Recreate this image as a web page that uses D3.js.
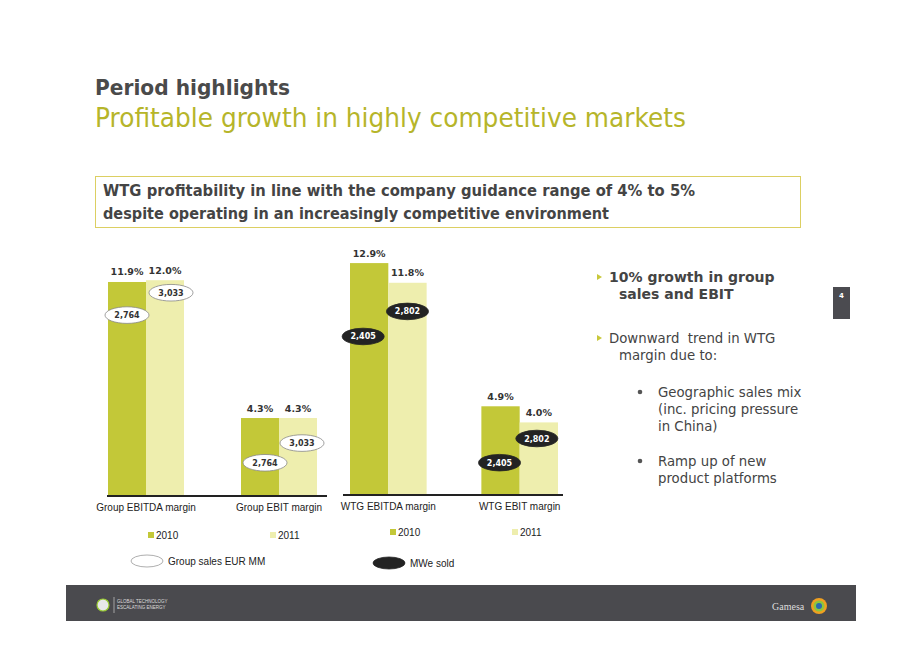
<!DOCTYPE html>
<html><head><meta charset="utf-8">
<script src="https://cdn.jsdelivr.net/npm/d3@7"></script>
<style>body{margin:0;background:#fff}svg{display:block}text{white-space:pre}</style>
</head><body>
<script>
// ---- data ----
const years = ["2010", "2011"];
const groupCategories = ["Group EBITDA margin", "Group EBIT margin"];
const groupMargin2010 = [11.9, 4.3];
const groupMargin2011 = [12.0, 4.3];
const groupSales = [2764, 3033]; // EUR MM, 2010 / 2011
const wtgCategories = ["WTG EBITDA margin", "WTG EBIT margin"];
const wtgMargin2010 = [12.9, 4.9];
const wtgMargin2011 = [11.8, 4.0];
const mweSold = [2405, 2802]; // 2010 / 2011

// annotation bubble heights (in % units) and horizontal nudges — layout only
const groupBubbleAt = [[10.05, 11.3], [1.8, 2.9]];
const groupBubbleDx = [[0, 6], [5, 4]];
const wtgBubbleAt = [[8.8, 10.2], [1.75, 3.1]];
const wtgBubbleDx = [[-6, 0], [-1, -2]];

const W = 920, H = 651;
const C2010 = "#c3c838", C2011 = "#eeeeae";
const TXT = "#333";
const svg = d3.select("body").append("svg").attr("width", W).attr("height", H);

// ---- headings ----
svg.append("text").attr("x", 95).attr("y", 95).attr("font-family", "DejaVu Sans")
  .attr("font-weight", "bold").attr("font-size", 20.5).attr("fill", "#4a4a4a")
  .attr("textLength", 195).attr("lengthAdjust", "spacingAndGlyphs").text("Period highlights");
svg.append("text").attr("x", 95).attr("y", 127).attr("font-family", "DejaVu Sans")
  .attr("font-size", 27).attr("fill", "#b6b52a")
  .attr("textLength", 591).attr("lengthAdjust", "spacingAndGlyphs")
  .text("Profitable growth in highly competitive markets");

svg.append("rect").attr("x", 95.5).attr("y", 176.5).attr("width", 705).attr("height", 51)
  .attr("fill", "#fff").attr("stroke", "#dccf62").attr("stroke-width", 1);
const boxLines = ["WTG profitability in line with the company guidance range of 4% to 5%",
  "despite operating in an increasingly competitive environment"];
const boxLens = [592, 506];
boxLines.forEach((t, i) => {
  svg.append("text").attr("x", 103).attr("y", 196 + i * 23).attr("font-family", "DejaVu Sans")
    .attr("font-weight", "bold").attr("font-size", 15).attr("fill", "#444")
    .attr("textLength", boxLens[i]).attr("lengthAdjust", "spacingAndGlyphs").text(t);
});

// ---- chart builder ----
function drawChart(cfg) {
  const g = svg.append("g");
  const x0 = d3.scaleBand().domain(cfg.categories).range(cfg.xRange).paddingInner(cfg.padInner).paddingOuter(0);
  const x1 = d3.scaleBand().domain(years).range([0, x0.bandwidth()]).padding(0);
  const y = d3.scaleLinear().domain([0, 13]).range([cfg.base, cfg.base - 13 * 17.9]);
  const rows = cfg.categories.map((c, i) => ({ cat: c, i, vals: [cfg.v2010[i], cfg.v2011[i]] }));

  const grp = g.selectAll("g.cat").data(rows).join("g")
    .attr("transform", d => `translate(${x0(d.cat)},0)`);
  grp.selectAll("rect").data(d => d.vals.map((v, j) => ({ v, yr: years[j] }))).join("rect")
    .attr("x", d => x1(d.yr)).attr("width", x1.bandwidth())
    .attr("y", d => y(d.v)).attr("height", d => y(0) - y(d.v))
    .attr("fill", d => d.yr === "2010" ? C2010 : C2011);
  grp.selectAll("text.pct").data(d => d.vals.map((v, j) => ({ v, yr: years[j] }))).join("text")
    .attr("class", "pct").attr("x", d => x1(d.yr) + x1.bandwidth() / 2).attr("y", d => y(d.v) - 6.5)
    .attr("text-anchor", "middle").attr("font-family", "DejaVu Sans").attr("font-weight", "bold")
    .attr("font-size", 9.5).attr("fill", TXT).text(d => d.v.toFixed(1) + "%");

  // annotation bubbles
  rows.forEach(r => {
    years.forEach((yr, j) => {
      const cx = x0(r.cat) + x1(yr) + x1.bandwidth() / 2 + cfg.bubbleDx[r.i][j];
      const cy = y(cfg.bubbleAt[r.i][j]);
      g.append("ellipse").attr("cx", cx).attr("cy", cy).attr("rx", cfg.dark ? 21 : 22).attr("ry", 8.3)
        .attr("fill", cfg.dark ? "#232323" : "#fff").attr("stroke", cfg.dark ? "#232323" : "#888")
        .attr("stroke-width", 0.8);
      g.append("text").attr("x", cx).attr("y", cy + 3).attr("text-anchor", "middle")
        .attr("font-family", "DejaVu Sans").attr("font-weight", "bold").attr("font-size", 8)
        .attr("fill", cfg.dark ? "#fff" : TXT).text(d3.format(",")(cfg.bubbles[j]));
    });
  });

  // baseline axis
  g.append("line").attr("x1", cfg.axis[0]).attr("x2", cfg.axis[1]).attr("y1", cfg.base + 1).attr("y2", cfg.base + 1)
    .attr("stroke", "#222").attr("stroke-width", 2);
  // category labels
  g.selectAll("text.cat").data(cfg.categories).join("text").attr("class", "cat")
    .attr("x", d => x0(d) + x0.bandwidth() / 2).attr("y", cfg.catY).attr("text-anchor", "middle")
    .attr("font-family", "Liberation Sans").attr("font-size", 10).attr("fill", "#222").text(d => d);
  // year legend
  years.forEach((yr, j) => {
    const lx = cfg.legendX[j];
    g.append("rect").attr("x", lx).attr("y", cfg.legendY - 7).attr("width", 6).attr("height", 6)
      .attr("fill", j === 0 ? C2010 : C2011);
    g.append("text").attr("x", lx + 8).attr("y", cfg.legendY).attr("font-family", "Liberation Sans")
      .attr("font-size", 10).attr("fill", "#222").text(yr);
  });
  // bubble legend
  g.append("ellipse").attr("cx", cfg.bLegend[0]).attr("cy", cfg.bLegend[1]).attr("rx", 16).attr("ry", 6)
    .attr("fill", cfg.dark ? "#232323" : "#fff").attr("stroke", cfg.dark ? "#232323" : "#999").attr("stroke-width", 0.8);
  g.append("text").attr("x", cfg.bLegend[0] + 21).attr("y", cfg.bLegend[1] + 4).attr("font-family", "Liberation Sans")
    .attr("font-size", 10).attr("fill", "#222").text(cfg.bLegendText);
}

drawChart({
  categories: groupCategories, v2010: groupMargin2010, v2011: groupMargin2011, bubbles: groupSales,
  bubbleAt: groupBubbleAt, bubbleDx: groupBubbleDx, dark: false,
  xRange: [108, 317], padInner: 57 / 133, base: 495, axis: [107, 327], catY: 511,
  legendX: [148, 270], legendY: 539, bLegend: [147, 561], bLegendText: "Group sales EUR MM"
});
drawChart({
  categories: wtgCategories, v2010: wtgMargin2010, v2011: wtgMargin2011, bubbles: mweSold,
  bubbleAt: wtgBubbleAt, bubbleDx: wtgBubbleDx, dark: true,
  xRange: [350, 558], padInner: 55 / 132, base: 494, axis: [343, 563], catY: 510,
  legendX: [390, 512], legendY: 536, bLegend: [389, 563], bLegendText: "MWe sold"
});

// ---- right-hand commentary ----
const tri = (x, yy) => svg.append("path").attr("d", `M${x},${yy - 4}L${x + 5},${yy - 1}L${x},${yy + 2}Z`).attr("fill", "#c8c83a");
const rt = (t, x, yy, bold) => svg.append("text").attr("x", x).attr("y", yy).attr("font-family", "DejaVu Sans")
  .attr("font-weight", bold ? "bold" : "normal").attr("font-size", bold ? 14 : 13.3).attr("fill", "#444")
  .attr("xml:space", "preserve").text(t);
tri(597, 278); rt("10% growth in group", 609, 282, true); rt("sales and EBIT", 619, 299, true);
tri(597, 339); rt("Downward  trend in WTG", 609, 343); rt("margin due to:", 619, 360);
svg.append("circle").attr("cx", 640).attr("cy", 392).attr("r", 2.3).attr("fill", "#555");
rt("Geographic sales mix", 658, 397); rt("(inc. pricing pressure", 658, 414); rt("in China)", 658, 431);
svg.append("circle").attr("cx", 640).attr("cy", 461).attr("r", 2.3).attr("fill", "#555");
rt("Ramp up of new", 658, 466); rt("product platforms", 658, 483);

// page number
svg.append("rect").attr("x", 833).attr("y", 287).attr("width", 17).attr("height", 32).attr("fill", "#4b4b50");
svg.append("text").attr("x", 841.5).attr("y", 298).attr("text-anchor", "middle").attr("font-family", "DejaVu Sans")
  .attr("font-weight", "bold").attr("font-size", 7).attr("fill", "#fff").text("4");

// ---- footer ----
svg.append("rect").attr("x", 66).attr("y", 585).attr("width", 790).attr("height", 36).attr("fill", "#4a4a4e");
svg.append("circle").attr("cx", 103).attr("cy", 605).attr("r", 6).attr("fill", "#e8e8e8");
svg.append("circle").attr("cx", 103).attr("cy", 605).attr("r", 6).attr("fill", "none").attr("stroke", "#9acd32").attr("stroke-width", 1.2);
svg.append("line").attr("x1", 114).attr("x2", 114).attr("y1", 597).attr("y2", 613).attr("stroke", "#ddd").attr("stroke-width", 0.6);
svg.append("text").attr("x", 117).attr("y", 603).attr("font-family", "Liberation Sans").attr("font-size", 4.5).attr("fill", "#ddd").text("GLOBAL TECHNOLOGY");
svg.append("text").attr("x", 117).attr("y", 609).attr("font-family", "Liberation Sans").attr("font-size", 4.5).attr("fill", "#ddd").text("ESCALATING ENERGY");
svg.append("text").attr("x", 772).attr("y", 610).attr("font-family", "Liberation Serif").attr("font-size", 10).attr("fill", "#ddd").text("Gamesa");
svg.append("circle").attr("cx", 819).attr("cy", 606).attr("r", 8).attr("fill", "#f0a020");
svg.append("circle").attr("cx", 819).attr("cy", 606).attr("r", 5.5).attr("fill", "#8cc63f");
svg.append("circle").attr("cx", 819).attr("cy", 606).attr("r", 3).attr("fill", "#2a6bb0");
</script>
</body></html>
